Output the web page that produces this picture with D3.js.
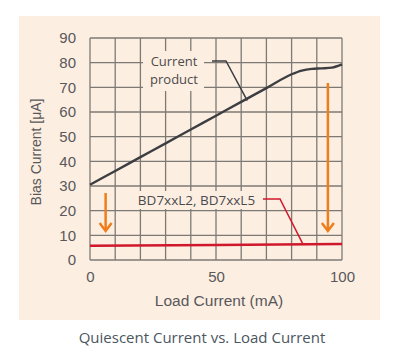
<!DOCTYPE html>
<html>
<head>
<meta charset="utf-8">
<script src="https://cdn.jsdelivr.net/npm/d3@7"></script>
<style>
  html, body { margin: 0; padding: 0; background: #ffffff; }
  svg { display: block; }
</style>
</head>
<body>
<svg id="chart" width="400" height="350"></svg>
<script>
// Load current (mA) samples and bias current (µA) for each product
const loadCurrent = [0, 10, 20, 30, 40, 50, 60, 70, 80, 84, 88, 92, 96, 100];
const currentProduct = [30.5, 36.1, 41.7, 47.3, 52.9, 58.5, 64.1, 69.7, 75.3, 76.8, 77.5, 77.7, 78.0, 79.3];
const redLoad = [0, 50, 100];
const bd7xxL = [5.8, 6.1, 6.5];

const xTicks = [0, 50, 100];
const yTicks = [0, 10, 20, 30, 40, 50, 60, 70, 80, 90];
const xGrid = d3.range(0, 101, 10);

const labelCurrent = ["Current", "product"];
const labelBD = "BD7xxL2, BD7xxL5";

const svg = d3.select("#chart");

// beige panel behind the chart
svg.append("rect").attr("x", 19).attr("y", 16).attr("width", 361).attr("height", 304)
  .attr("fill", "#fdeee2");

const x = d3.scaleLinear().domain([0, 100]).range([90, 342]);
const y = d3.scaleLinear().domain([0, 90]).range([260, 38]);

// grid
const grid = svg.append("g").attr("stroke", "#7d7a74").attr("stroke-width", 1.3);
grid.selectAll("line.v").data(xGrid).join("line")
  .attr("x1", d => x(d)).attr("x2", d => x(d)).attr("y1", y(0)).attr("y2", y(90));
grid.selectAll("line.h").data(yTicks).join("line")
  .attr("x1", x(0)).attr("x2", x(100)).attr("y1", d => y(d)).attr("y2", d => y(d));

// axes (labels only)
const font = "'Liberation Sans', Arial, sans-serif";
const yAxis = svg.append("g").attr("transform", `translate(${x(0)},0)`)
  .call(d3.axisLeft(y).tickValues(yTicks).tickSize(0).tickPadding(14));
const xAxis = svg.append("g").attr("transform", `translate(0,${y(0)})`)
  .call(d3.axisBottom(x).tickValues(xTicks).tickSize(0).tickPadding(11));
[yAxis, xAxis].forEach(a => {
  a.select(".domain").remove();
  a.selectAll("text").attr("fill", "#58585a").style("font-family", font).style("font-size", "15px");
});

svg.append("text").attr("transform", "translate(41,152) rotate(-90)")
  .attr("text-anchor", "middle").attr("fill", "#58585a")
  .style("font-family", font).style("font-size", "14px").text("Bias Current [\u03bcA]");
svg.append("text").attr("x", 219).attr("y", 305.5).attr("text-anchor", "middle")
  .attr("fill", "#58585a").style("font-family", font).style("font-size", "15.5px")
  .text("Load Current (mA)");

// caption
svg.append("text").attr("x", 202).attr("y", 342.5).attr("text-anchor", "middle")
  .attr("fill", "#4b5661").style("font-family", "'Open Sans', sans-serif").style("font-size", "15px")
  .text("Quiescent Current vs. Load Current");

// series lines
const line = d3.line().x(d => x(d[0])).y(d => y(d[1])).curve(d3.curveMonotoneX);
svg.append("path").datum(d3.zip(redLoad, bd7xxL)).attr("d", line)
  .attr("fill", "none").attr("stroke", "#d0182c").attr("stroke-width", 2.4);
svg.append("path").datum(d3.zip(loadCurrent, currentProduct)).attr("d", line)
  .attr("fill", "none").attr("stroke", "#3c3e42").attr("stroke-width", 2.4);

// labels with leader lines
const labFont = "'Open Sans', sans-serif";
svg.append("rect").attr("x", 143).attr("y", 51).attr("width", 61).attr("height", 40).attr("fill", "#fdeee2");
svg.append("polyline")
  .attr("points", [[212, 61], [226, 61], [x(62.4), y(64.6)]].map(p => p.join(",")).join(" "))
  .attr("fill", "none").attr("stroke", "#3c3e42").attr("stroke-width", 1.5);
svg.selectAll("text.lc").data(labelCurrent).join("text")
  .attr("x", 174).attr("y", (d, i) => 66 + i * 18).attr("text-anchor", "middle")
  .attr("fill", "#4b4b4d").style("font-family", labFont).style("font-size", "13px").text(d => d);

svg.append("rect").attr("x", 134).attr("y", 191).attr("width", 126).attr("height", 18).attr("fill", "#fdeee2");
svg.append("polyline")
  .attr("points", [[263, 199], [280, 199], [x(84.5), y(6.4)]].map(p => p.join(",")).join(" "))
  .attr("fill", "none").attr("stroke", "#d0182c").attr("stroke-width", 1.5);
svg.append("text").attr("x", 196.5).attr("y", 205).attr("text-anchor", "middle")
  .attr("fill", "#4b4b4d").style("font-family", labFont).style("font-size", "13.5px").text(labelBD);

// orange arrows
const arrow = (xv, y1, y2) => {
  const g = svg.append("g").attr("stroke", "#ee7d1a").attr("stroke-width", 2.5).attr("fill", "none")
    .attr("stroke-linecap", "butt");
  g.append("line").attr("x1", xv).attr("x2", xv).attr("y1", y1).attr("y2", y2);
  g.append("polyline").attr("points", `${xv - 6},${y2 - 8} ${xv},${y2} ${xv + 6},${y2 - 8}`);
};
arrow(x(6.2), 193, 231);
arrow(x(94.4), 83, 231);
</script>
</body>
</html>
